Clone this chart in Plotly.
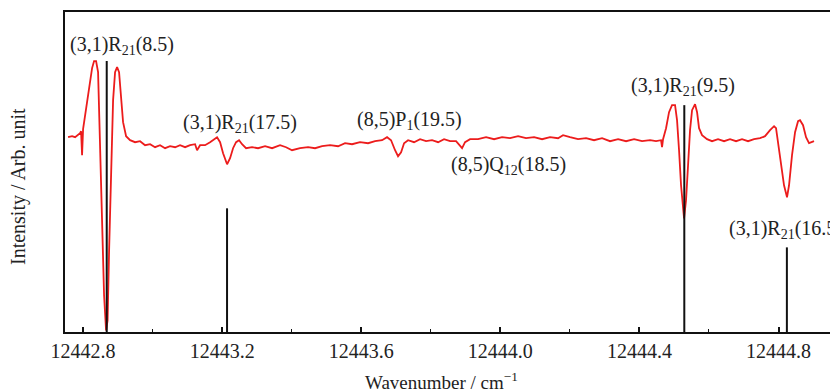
import plotly.graph_objects as go

# Measured spectrum (wavenumber in cm^-1, intensity in arbitrary units)
wavenumber = [
    12442.7569, 12442.7684, 12442.7770, 12442.7856, 12442.7914, 12442.7942, 12442.7971, 12442.8000,
    12442.8086, 12442.8173, 12442.8259, 12442.8316, 12442.8374, 12442.8431, 12442.8489, 12442.8546,
    12442.8604, 12442.8661, 12442.8705, 12442.8748, 12442.8805, 12442.8863, 12442.8920, 12442.8978,
    12442.9035, 12442.9093, 12442.9150, 12442.9237, 12442.9352, 12442.9495, 12442.9639, 12442.9783,
    12442.9927, 12443.0070, 12443.0214, 12443.0358, 12443.0502, 12443.0646, 12443.0789, 12443.0933,
    12443.1077, 12443.1221, 12443.1278, 12443.1364, 12443.1508, 12443.1652, 12443.1767, 12443.1853,
    12443.1940, 12443.2026, 12443.2141, 12443.2227, 12443.2313, 12443.2400, 12443.2486, 12443.2572,
    12443.2687, 12443.2860, 12443.3032, 12443.3234, 12443.3435, 12443.3665, 12443.3838, 12443.4010,
    12443.4240, 12443.4470, 12443.4671, 12443.4873, 12443.5103, 12443.5333, 12443.5534, 12443.5735,
    12443.5965, 12443.6196, 12443.6397, 12443.6598, 12443.6742, 12443.6857, 12443.6972, 12443.7058,
    12443.7145, 12443.7231, 12443.7346, 12443.7518, 12443.7691, 12443.7863, 12443.8036, 12443.8209,
    12443.8381, 12443.8554, 12443.8726, 12443.8841, 12443.8899, 12443.8985, 12443.9129, 12443.9359,
    12443.9589, 12443.9819, 12444.0049, 12444.0279, 12444.0509, 12444.0739, 12444.0969, 12444.1199,
    12444.1429, 12444.1659, 12444.1803, 12444.2004, 12444.2234, 12444.2464, 12444.2694, 12444.2925,
    12444.3155, 12444.3385, 12444.3615, 12444.3845, 12444.4075, 12444.4305, 12444.4477, 12444.4621,
    12444.4650, 12444.4679, 12444.4765, 12444.4851, 12444.4937, 12444.5024, 12444.5081, 12444.5139,
    12444.5196, 12444.5283, 12444.5340, 12444.5398, 12444.5455, 12444.5513, 12444.5599, 12444.5657,
    12444.5714, 12444.5800, 12444.5944, 12444.6088, 12444.6260, 12444.6433, 12444.6605, 12444.6778,
    12444.6950, 12444.7123, 12444.7296, 12444.7468, 12444.7612, 12444.7756, 12444.7871, 12444.7928,
    12444.7986, 12444.8072, 12444.8158, 12444.8244, 12444.8302, 12444.8388, 12444.8475, 12444.8561,
    12444.8618, 12444.8705, 12444.8791, 12444.8877, 12444.8963, 12444.9021,
]
intensity = [
    194.5, 195.5, 194.5, 196.5, 198.5, 200.5, 176.5, 202.5,
    221.5, 243.5, 263.5, 270.5, 270.5, 259.5, 191.5, 111.5,
    36.5, 1.5, 11.5, 81.5, 161.5, 231.5, 259.5, 264.5,
    259.5, 236.5, 209.5, 195.5, 191.5, 189.5, 190.5, 186.5,
    187.5, 184.5, 186.5, 183.5, 185.5, 184.5, 186.5, 184.5,
    186.5, 187.5, 181.5, 186.5, 186.5, 189.5, 192.5, 194.5,
    189.5, 178.5, 167.5, 173.5, 183.5, 189.5, 191.5, 187.5,
    183.5, 184.5, 183.5, 185.5, 183.5, 186.5, 184.5, 181.5,
    183.5, 184.5, 183.5, 185.5, 186.5, 185.5, 188.5, 187.5,
    189.5, 188.5, 190.5, 191.5, 194.5, 191.5, 181.5, 175.5,
    179.5, 188.5, 191.5, 189.5, 192.5, 190.5, 191.5, 189.5,
    192.5, 190.5, 190.5, 186.5, 183.5, 189.5, 192.5, 192.5,
    194.5, 192.5, 194.5, 193.5, 195.5, 193.5, 194.5, 192.5,
    194.5, 193.5, 196.5, 194.5, 192.5, 193.5, 191.5, 193.5,
    190.5, 192.5, 190.5, 192.5, 190.5, 191.5, 190.5, 191.5,
    184.5, 192.5, 203.5, 219.5, 226.5, 226.5, 211.5, 181.5,
    146.5, 113.5, 131.5, 166.5, 201.5, 221.5, 227.5, 219.5,
    203.5, 196.5, 192.5, 190.5, 192.5, 190.5, 192.5, 190.5,
    192.5, 190.5, 192.5, 193.5, 195.5, 201.5, 205.5, 203.5,
    189.5, 166.5, 146.5, 134.5, 146.5, 176.5, 199.5, 210.5,
    211.5, 206.5, 194.5, 188.5, 189.5, 190.5,
]

# Calculated line positions (stick spectrum)
line_position = [12442.868, 12443.214, 12444.529, 12444.824]
line_strength = [270.5, 123.5, 226.5, 84.5]

stick_x, stick_y = [], []
for p, s in zip(line_position, line_strength):
    stick_x += [p, p, None]
    stick_y += [0, s, None]

FONT = "Liberation Serif, Times New Roman, serif"
TXT = "#222222"

fig = go.Figure()
fig.add_trace(go.Scatter(x=wavenumber, y=intensity, mode="lines",
                         line=dict(color="#ec1c1c", width=1.8),
                         hoverinfo="skip", showlegend=False))
fig.add_trace(go.Scatter(x=stick_x, y=stick_y, mode="lines",
                         line=dict(color="#111111", width=2),
                         hoverinfo="skip", showlegend=False))

labels = [
    ("(3,1)R<sub>21</sub>(8.5)", 12442.912, 286.5, "center"),
    ("(3,1)R<sub>21</sub>(17.5)", 12443.251, 208.5, "center"),
    ("(8,5)P<sub>1</sub>(19.5)", 12443.740, 211.5, "center"),
    ("(8,5)Q<sub>12</sub>(18.5)", 12444.022, 166.5, "center"),
    ("(3,1)R<sub>21</sub>(9.5)", 12444.525, 245.5, "center"),
    ("(3,1)R<sub>21</sub>(16.5)", 12444.652, 102.5, "left"),
]
for text, x, y, anchor in labels:
    fig.add_annotation(x=x, y=y, xref="x", yref="y", text=text, showarrow=False,
                       xanchor=anchor, yanchor="middle",
                       font=dict(family=FONT, size=20, color=TXT))

fig.add_annotation(x=(441 - 65) / 773, y=-0.152, xref="paper", yref="paper",
                   text="Wavenumber / cm<sup>−1</sup>", showarrow=False,
                   xanchor="center", yanchor="middle",
                   font=dict(family=FONT, size=19, color=TXT))
fig.add_annotation(x=-0.06, y=0.455, xref="paper", yref="paper",
                   text="Intensity / Arb. unit", showarrow=False, textangle=-90,
                   xanchor="center", yanchor="middle",
                   font=dict(family=FONT, size=20, color=TXT))

fig.update_xaxes(range=[12442.748, 12444.971], showgrid=False, zeroline=False,
                 showline=True, linecolor="#111111", linewidth=2, mirror=True,
                 tick0=12442.8, dtick=0.4, ticks="inside", ticklen=5, tickwidth=1.5,
                 tickcolor="#111111", tickformat=".1f",
                 tickfont=dict(family=FONT, size=20, color=TXT),
                 minor=dict(dtick=0.2, ticks="inside", ticklen=3, tickwidth=1.2,
                            tickcolor="#111111"))
fig.update_yaxes(range=[0, 319.5], showgrid=False, zeroline=False,
                 showline=True, linecolor="#111111", linewidth=2, mirror=False,
                 showticklabels=False, ticks="")

# page has an 8px body margin, so the figure is sized/offset to compensate
fig.update_layout(width=830, height=382,
                  margin=dict(l=57, r=0, t=4, b=58),
                  paper_bgcolor="white", plot_bgcolor="white")

fig.write_html("out.html")
